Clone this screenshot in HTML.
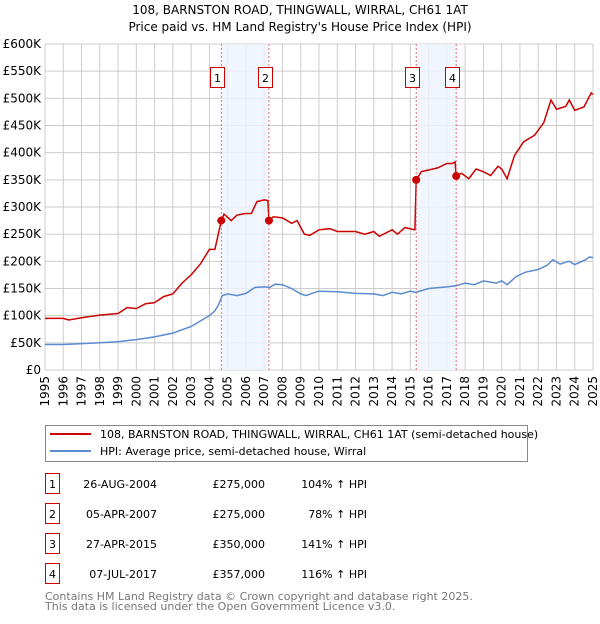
<!DOCTYPE html>
<html><head><meta charset="utf-8"><style>
body{margin:0;background:#fff;width:600px;height:620px;overflow:hidden;font-family:"DejaVu Sans","Liberation Sans",sans-serif;}
svg text{font-family:"DejaVu Sans","Liberation Sans",sans-serif;}
</style></head><body>
<svg id="chart" width="600" height="620" xmlns="http://www.w3.org/2000/svg">
<text x="300" y="14" text-anchor="middle" font-size="12">108, BARNSTON ROAD, THINGWALL, WIRRAL, CH61 1AT</text>
<text x="300" y="31" text-anchor="middle" font-size="12">Price paid vs. HM Land Registry's House Price Index (HPI)</text>
<g id="grid"></g><g id="shade"></g><g id="series"></g><g id="markers"></g><g id="axes"></g>
<rect x="45.5" y="425.5" width="482" height="36" fill="#fff" stroke="#888"/>
<line x1="50" y1="434" x2="91" y2="434" stroke="#cc0000" stroke-width="2"/>
<text x="100" y="438" font-size="11">108, BARNSTON ROAD, THINGWALL, WIRRAL, CH61 1AT (semi-detached house)</text>
<line x1="50" y1="451" x2="91" y2="451" stroke="#5b8bd0" stroke-width="2"/>
<text x="100" y="455" font-size="11">HPI: Average price, semi-detached house, Wirral</text>
<g id="table" font-size="11"></g>
<text x="45" y="600" font-size="11" fill="#777">Contains HM Land Registry data © Crown copyright and database right 2025.</text>
<text x="45" y="610" font-size="11" fill="#777">This data is licensed under the Open Government Licence v3.0.</text>
</svg>
<script>
const hpiYears=[1995,1996,1997,1998,1999,2000,2001,2002,2003,2004,2004.3,2004.5,2004.7,2005,2005.5,2006,2006.5,2007,2007.3,2007.6,2008,2008.5,2009,2009.3,2009.7,2010,2011,2012,2013,2013.5,2014,2014.5,2015,2015.3,2016,2017,2017.5,2018,2018.5,2019,2019.7,2020,2020.3,2020.8,2021.3,2022,2022.5,2022.8,2023.2,2023.7,2024,2024.6,2024.8,2025];
const hpiValues=[47,47,48.5,50,52,56,61,68,80,100,109,120,137,140,137,141,152,153,152,158,157,150,140,137,142,145,144,141,140,137,143,140,145,143,150,153,155,160,157,164,160,164,157,172,180,185,193,203,195,200,194,203,208,207];
const priceYears=[1995,1996,1996.3,1997,1998,1999,1999.5,2000,2000.5,2001,2001.5,2002,2002.5,2003,2003.5,2004,2004.3,2004.65,2004.8,2005.2,2005.5,2006,2006.3,2006.6,2007,2007.2,2007.26,2007.5,2008,2008.5,2008.8,2009.2,2009.5,2010,2010.6,2011,2012,2012.5,2013,2013.3,2014,2014.3,2014.7,2015.25,2015.32,2015.6,2016.5,2017,2017.3,2017.45,2017.51,2017.8,2018.2,2018.6,2019,2019.4,2019.8,2020,2020.3,2020.7,2021.2,2021.8,2022.3,2022.7,2023,2023.5,2023.7,2024,2024.5,2024.9,2025];
const priceValues=[95,95,92,96,101,104,115,113,122,124,135,140,160,175,195,222,222,275,287,275,285,288,288,310,313,312,275,282,280,270,275,250,248,258,260,255,255,250,255,246,258,250,262,258,350,365,372,380,380,383,357,362,352,370,365,358,375,370,352,395,420,432,455,497,480,485,497,478,484,510,507];
const saleLabels=["1","2","3","4"];
const saleYears=[2004.65,2007.26,2015.32,2017.51];
const saleValues=[275,275,350,357];
const saleDates=["26-AUG-2004","05-APR-2007","27-APR-2015","07-JUL-2017"];
const salePrices=["£275,000","£275,000","£350,000","£357,000"];
const saleHpi=["104% ↑ HPI","78% ↑ HPI","141% ↑ HPI","116% ↑ HPI"];
const yTicks=[0,50,100,150,200,250,300,350,400,450,500,550,600];
const yTickLabels=["£0","£50K","£100K","£150K","£200K","£250K","£300K","£350K","£400K","£450K","£500K","£550K","£600K"];
const xTicks=[1995,1996,1997,1998,1999,2000,2001,2002,2003,2004,2005,2006,2007,2008,2009,2010,2011,2012,2013,2014,2015,2016,2017,2018,2019,2020,2021,2022,2023,2024,2025];

const NS="http://www.w3.org/2000/svg";
const X0=45,X1=593,Y0=370,Y1=44;
const x=v=>X0+(v-1995)/30*(X1-X0);
const y=v=>Y0-v/600*(Y0-Y1);
function mk(tag,attrs,parent){const e=document.createElementNS(NS,tag);for(const k in attrs)e.setAttribute(k,attrs[k]);document.getElementById(parent).appendChild(e);return e;}
yTicks.forEach((t,i)=>{
 const l=mk('line',{x1:X0,x2:X1,y1:y(t),y2:y(t),stroke:'#ccc'},'grid');
 
 
 const tx=mk('text',{x:X0-4,y:y(t)+4,'text-anchor':'end','font-size':'12'},'axes');
 tx.textContent=yTickLabels[i];
 
 
});
xTicks.forEach(t=>{
 const l=mk('line',{x1:x(t),x2:x(t),y1:Y1,y2:Y0,stroke:'#ccc'},'grid');
 
 
 const tx=mk('text',{x:0,y:0,'text-anchor':'end','font-size':'12',transform:`translate(${x(t)+4},${Y0+6}) rotate(-90)`},'axes');
 tx.textContent=t;
 
 
});
for(let i=0;i<saleYears.length;i+=2){
 const r=mk('rect',{x:x(saleYears[i]),y:Y1,width:x(saleYears[i+1])-x(saleYears[i]),height:Y0-Y1,fill:'#eef3fc',opacity:'0.8'},'shade');
 
 
}
const path=(xs,vs)=>xs.map((v,i)=>(i?'L':'M')+x(v).toFixed(1)+','+y(vs[i]).toFixed(1)).join('');
const hp=mk('path',{d:path(hpiYears,hpiValues),fill:'none',stroke:'#5b8bd0','stroke-width':'1.5'},'series');


const pp=mk('path',{d:path(priceYears,priceValues),fill:'none',stroke:'#cc0000','stroke-width':'1.5'},'series');


saleYears.forEach((s,i)=>{
 const l=mk('line',{x1:x(s),x2:x(s),y1:Y1,y2:Y0,stroke:'#e05050','stroke-dasharray':'2,2','stroke-width':'0.8'},'markers');
 
 
 const c=mk('circle',{cx:x(s),cy:y(saleValues[i]),r:4,fill:'#cc0000'},'markers');
 
 
 const b=mk('rect',{x:Math.round(x(s))-10.5,y:67.5,width:14,height:20,fill:'#fff',stroke:'#cc0000'},'markers');
 
 
 const t=mk('text',{x:Math.round(x(s))-3.5,y:82,'text-anchor':'middle','font-size':'11'},'markers');
 t.textContent=saleLabels[i];
 
 
 const ry=473+i*30;
 const tb=mk('rect',{x:45.5,y:ry+0.5,width:14,height:20,fill:'#fff',stroke:'#cc0000'},'table');
 
 
 const tl=mk('text',{x:52.5,y:ry+15,'text-anchor':'middle'},'table');
 tl.textContent=saleLabels[i];
 
 
 const td=mk('text',{x:157,y:ry+15,'text-anchor':'end'},'table');
 td.textContent=saleDates[i];
 
 
 const tp=mk('text',{x:265,y:ry+15,'text-anchor':'end'},'table');
 tp.textContent=salePrices[i];
 
 
 const th=mk('text',{x:367,y:ry+15,'text-anchor':'end'},'table');
 th.textContent=saleHpi[i];
 
 
});
</script>
</body></html>
